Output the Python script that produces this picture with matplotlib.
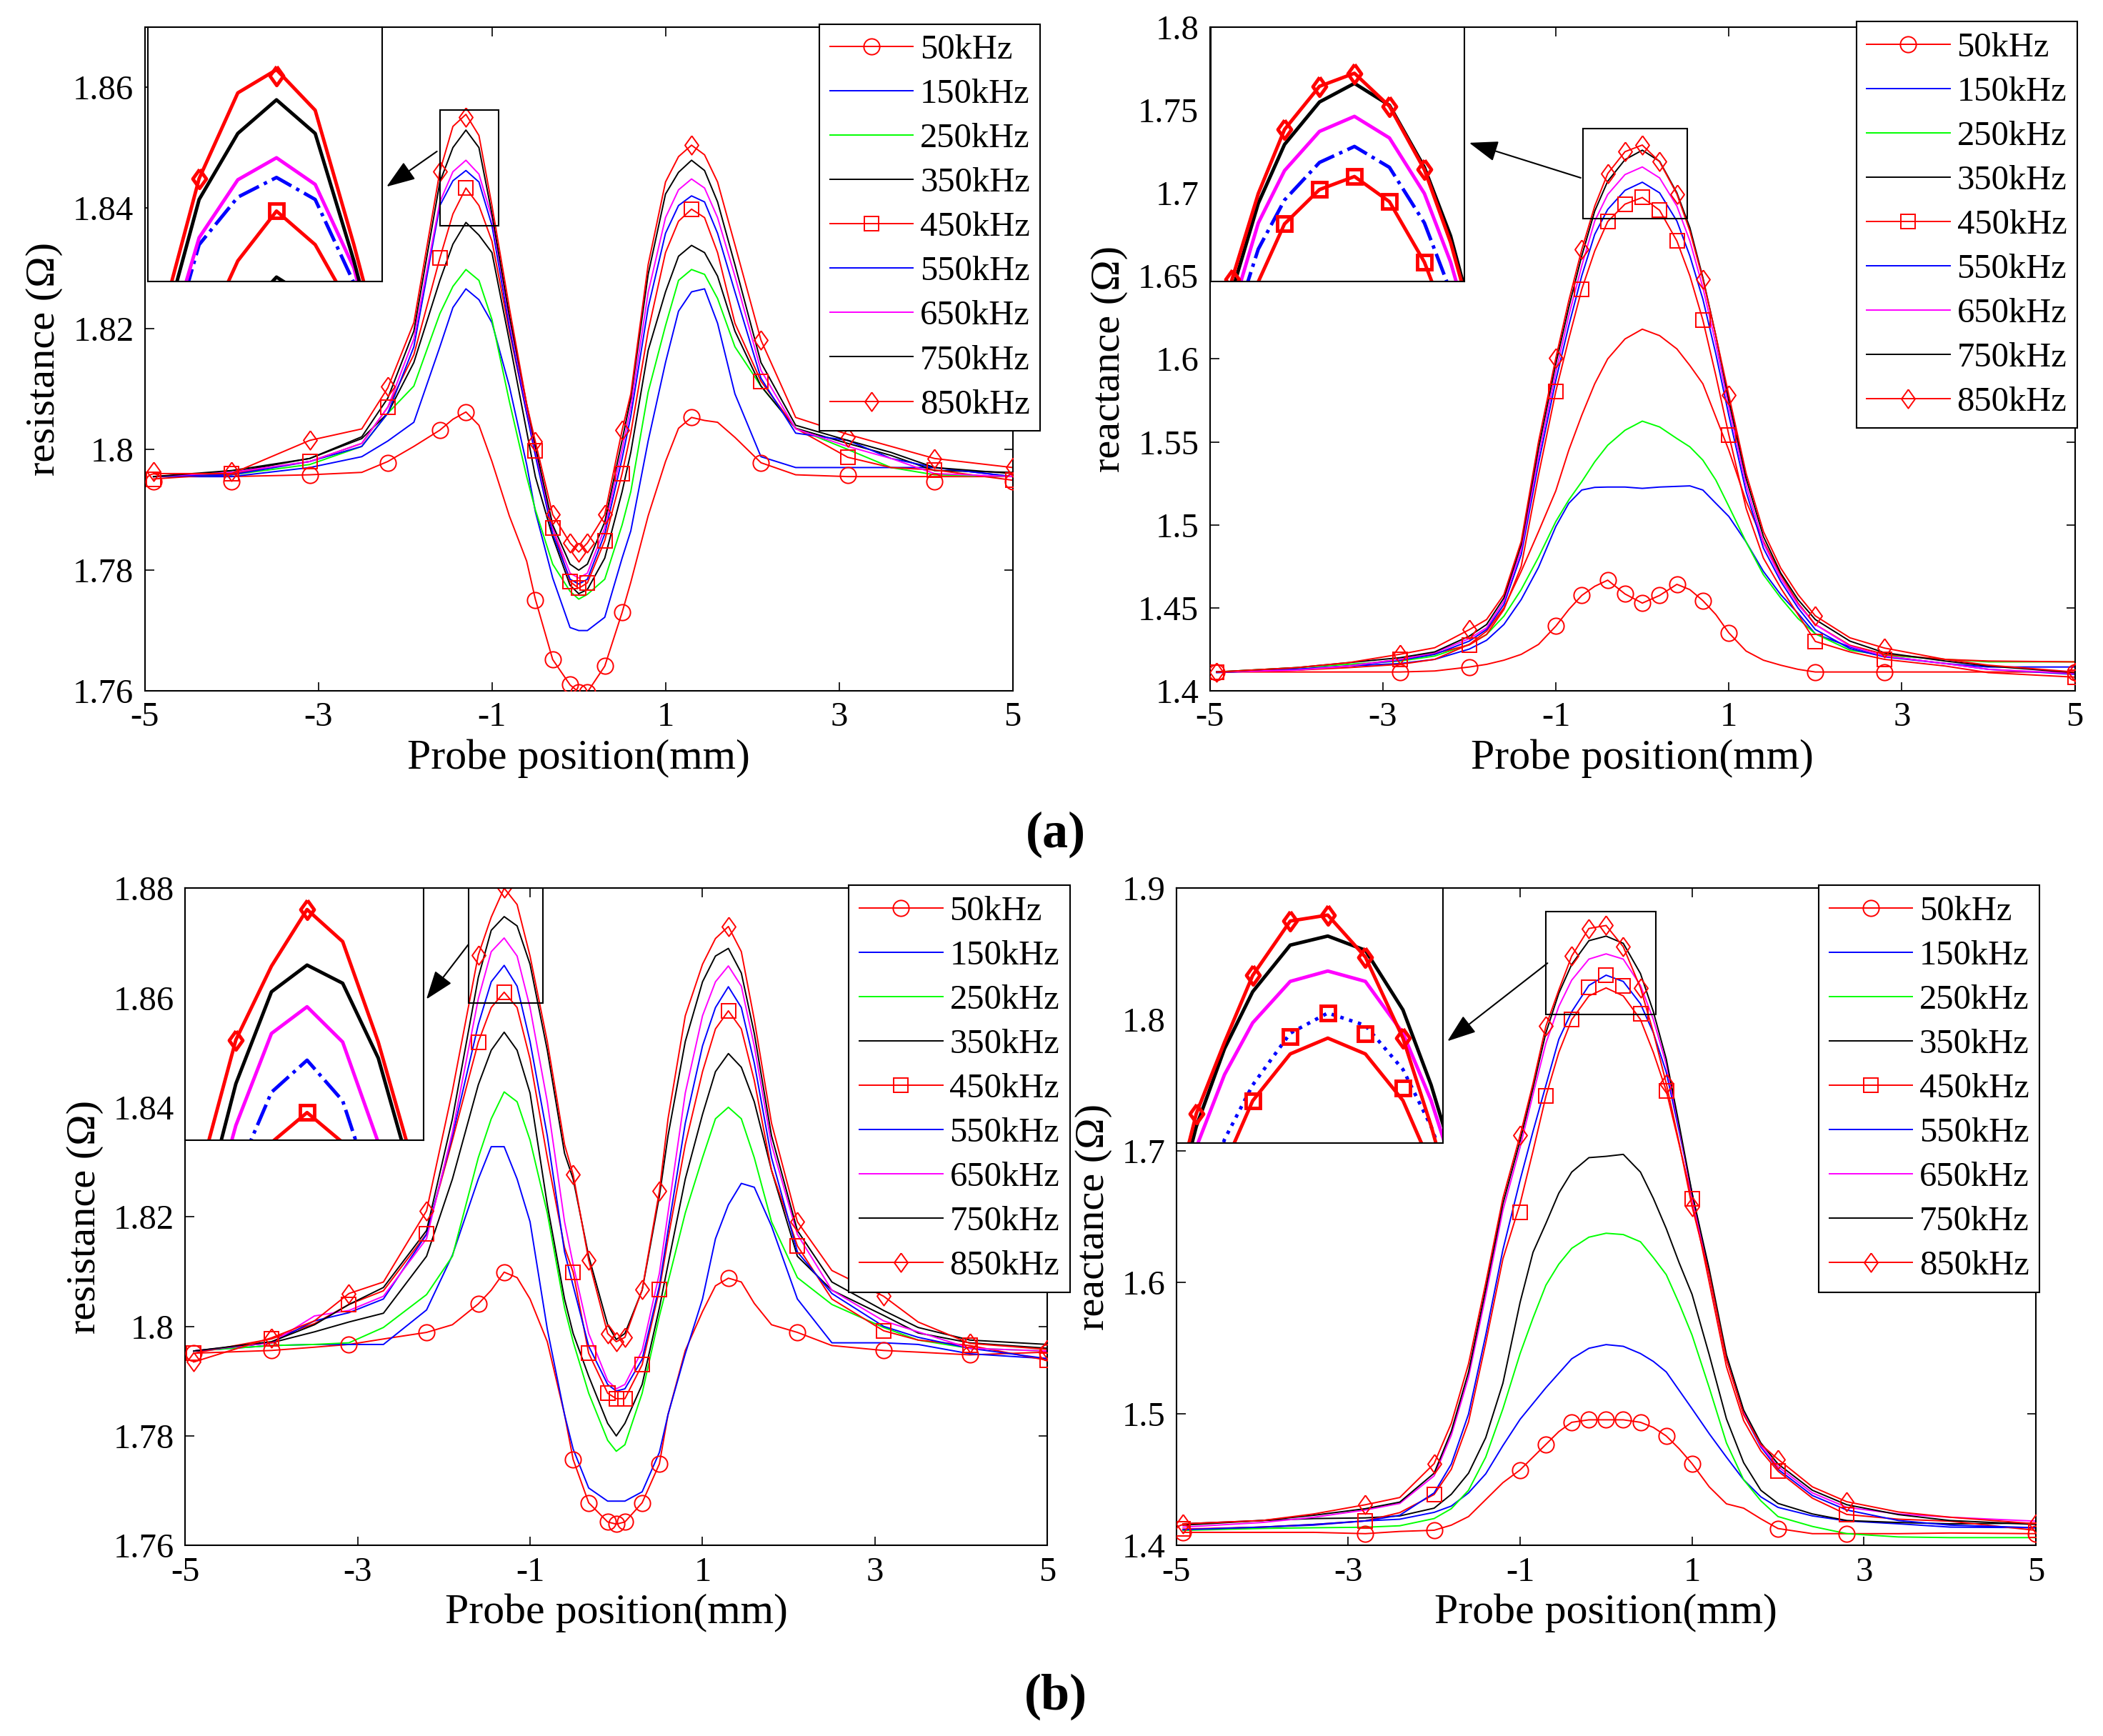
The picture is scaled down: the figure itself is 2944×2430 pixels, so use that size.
import numpy as np
import matplotlib
matplotlib.use('Agg')
import matplotlib.pyplot as plt
from matplotlib.lines import Line2D
from matplotlib.patches import Rectangle, FancyArrowPatch
from matplotlib.ticker import FuncFormatter

plt.rcParams['font.family'] = ['Liberation Serif', 'DejaVu Serif']
plt.rcParams['axes.unicode_minus'] = False

# ---------------- data ----------------
FREQS = ['50kHz', '150kHz', '250kHz', '350kHz', '450kHz', '550kHz', '650kHz', '750kHz', '850kHz']

# (a) resistance
RA_X = [-4.9, -4.0, -3.1, -2.5, -2.2, -1.9, -1.6, -1.45, -1.3, -1.15, -1.0, -0.8, -0.6, -0.5, -0.3, -0.1, 0, 0.1,
        0.3, 0.5, 0.6, 0.8, 1.0, 1.15, 1.3, 1.45, 1.6, 1.8, 2.1, 2.5, 3.1, 3.6, 4.1, 5.0]
RA_50 = [1.7955, 1.7955, 1.7958, 1.7962, 1.798, 1.8005, 1.8032, 1.805, 1.8062, 1.804, 1.798, 1.789, 1.7815, 1.7752,
         1.7652, 1.761, 1.7598, 1.7598, 1.7641, 1.773, 1.778, 1.789, 1.798, 1.8035, 1.8053, 1.8048, 1.8045, 1.802,
         1.7978, 1.7958, 1.7955, 1.7955, 1.7955, 1.7955]
RA_150 = [1.7955, 1.7955, 1.797, 1.7988, 1.8014, 1.8045, 1.817, 1.8235, 1.8266, 1.8248, 1.821, 1.8105, 1.7975, 1.7897,
          1.7787, 1.7705, 1.770, 1.770, 1.7722, 1.782, 1.7865, 1.8014, 1.8144, 1.8229, 1.8261, 1.8266, 1.8209, 1.8092,
          1.7988, 1.797, 1.797, 1.797, 1.797, 1.7955]
RA_250 = [1.7955, 1.7958, 1.7975, 1.8005, 1.806, 1.8105, 1.8225, 1.827, 1.8298, 1.828, 1.8215, 1.808, 1.7955, 1.790,
          1.781, 1.7765, 1.7752, 1.776, 1.7785, 1.7875, 1.793, 1.8095, 1.8205, 1.828, 1.8298, 1.829, 1.825, 1.817,
          1.8105, 1.8035, 1.800, 1.797, 1.7958, 1.7955]
RA_350 = [1.7955, 1.7962, 1.7985, 1.8018, 1.806, 1.8144, 1.828, 1.834, 1.8376, 1.8355, 1.8326, 1.818, 1.803, 1.7955,
          1.7855, 1.7775, 1.7761, 1.7768, 1.782, 1.793, 1.7995, 1.8164, 1.8261, 1.832, 1.8338, 1.8326, 1.8287, 1.8196,
          1.8105, 1.8035, 1.801, 1.799, 1.7965, 1.7962]
RA_450 = [1.7951, 1.796, 1.798, 1.801, 1.807, 1.8157, 1.8317, 1.839, 1.8433, 1.8404, 1.8345, 1.8196, 1.806, 1.7998,
          1.787, 1.7781, 1.777, 1.7779, 1.7849, 1.796, 1.8027, 1.8196, 1.8326, 1.8378, 1.8398, 1.8384, 1.8326, 1.8209,
          1.8113, 1.8035, 1.7987, 1.797, 1.7966, 1.7949]
RA_550 = [1.7955, 1.7958, 1.798, 1.8005, 1.806, 1.817, 1.8404, 1.8445, 1.8462, 1.8443, 1.8371, 1.8203, 1.806, 1.799,
          1.786, 1.7785, 1.7777, 1.7785, 1.786, 1.7985, 1.8055, 1.8235, 1.8358, 1.8404, 1.842, 1.841, 1.8358, 1.8261,
          1.8118, 1.8027, 1.8015, 1.7985, 1.797, 1.7955]
RA_650 = [1.7955, 1.7962, 1.798, 1.801, 1.807, 1.8183, 1.841, 1.846, 1.8479, 1.8456, 1.8384, 1.8216, 1.807, 1.800,
          1.787, 1.7795, 1.7787, 1.7795, 1.787, 1.800, 1.807, 1.826, 1.8384, 1.843, 1.8448, 1.8433, 1.8384, 1.8287,
          1.8131, 1.8034, 1.8005, 1.7985, 1.796, 1.7955]
RA_750 = [1.7955, 1.7965, 1.7985, 1.8021, 1.8085, 1.8196, 1.8443, 1.850, 1.8529, 1.850, 1.839, 1.8222, 1.8075, 1.8005,
          1.7875, 1.781, 1.780, 1.781, 1.788, 1.8015, 1.8085, 1.829, 1.8423, 1.8459, 1.8479, 1.8462, 1.841, 1.8306,
          1.8144, 1.804, 1.8015, 1.7995, 1.797, 1.796]
RA_850 = [1.796, 1.796, 1.8015, 1.8034, 1.8102, 1.821, 1.8461, 1.8535, 1.8555, 1.852, 1.8404, 1.8235, 1.8075, 1.8013,
          1.7892, 1.7845, 1.783, 1.7845, 1.7892, 1.8032, 1.8092, 1.8306, 1.8443, 1.8485, 1.8504, 1.8488, 1.8443, 1.8339,
          1.8181, 1.8053, 1.8025, 1.8005, 1.7985, 1.797]
RA_MX = [-4.9, -4.0, -3.1, -2.2, -1.6, -1.3, -0.5, -0.3, -0.1, 0, 0.1, 0.3, 0.5, 1.3, 2.1, 3.1, 4.1, 5.0]
RA_M50 = [1.7947, 1.7947, 1.7958, 1.7978, 1.8032, 1.8062, 1.7751, 1.7652, 1.7611, 1.7598, 1.7598, 1.7641, 1.773,
          1.8053, 1.7978, 1.7958, 1.7947, 1.7947]
RA_M450 = [1.7951, 1.796, 1.798, 1.807, 1.8317, 1.8433, 1.7998, 1.787, 1.7781, 1.777, 1.7779, 1.7849, 1.796, 1.8398,
           1.8113, 1.7987, 1.7966, 1.7949]
RA_M850 = [1.7963, 1.7963, 1.8015, 1.8104, 1.8461, 1.855, 1.8013, 1.7892, 1.7845, 1.783, 1.7845, 1.7892, 1.8032,
           1.8504, 1.8181, 1.802, 1.7985, 1.797]

# (a) reactance
XA_X = [-4.92, -4.0, -3.4, -2.8, -2.4, -2.0, -1.8, -1.6, -1.4, -1.2, -1.0, -0.85, -0.7, -0.55, -0.4, -0.2, 0, 0.2,
        0.4, 0.55, 0.7, 0.85, 1.0, 1.2, 1.4, 1.6, 1.8, 2.0, 2.4, 2.8, 3.5, 4.0, 5.0]
XA_50 = [1.4114, 1.4114, 1.4114, 1.4114, 1.412, 1.4144, 1.416, 1.4185, 1.422, 1.428, 1.439, 1.449, 1.4575, 1.463,
         1.4667, 1.4584, 1.4529, 1.4575, 1.4642, 1.461, 1.4544, 1.446, 1.435, 1.424, 1.4185, 1.4155, 1.413, 1.4114,
         1.4114, 1.4114, 1.4114, 1.4114, 1.4114]
XA_150 = [1.411, 1.413, 1.415, 1.4165, 1.419, 1.4252, 1.4305, 1.440, 1.455, 1.4744, 1.499, 1.513, 1.521, 1.5226,
          1.5228, 1.5228, 1.522, 1.5228, 1.5232, 1.5235, 1.521, 1.513, 1.5051, 1.4897, 1.472, 1.458, 1.4467, 1.4344,
          1.4265, 1.421, 1.4165, 1.4144, 1.4144]
XA_250 = [1.4114, 1.414, 1.416, 1.418, 1.421, 1.428, 1.434, 1.445, 1.461, 1.4805, 1.502, 1.515, 1.526, 1.538, 1.548,
          1.557, 1.5625, 1.559, 1.552, 1.547, 1.539, 1.527, 1.5112, 1.4897, 1.470, 1.456, 1.4436, 1.4344, 1.4245,
          1.4215, 1.419, 1.4175, 1.4175]
XA_350 = [1.4114, 1.4125, 1.414, 1.416, 1.419, 1.428, 1.436, 1.450, 1.472, 1.4959, 1.5205, 1.545, 1.566, 1.585, 1.600,
          1.612, 1.6179, 1.614, 1.606, 1.596, 1.585, 1.565, 1.545, 1.5143, 1.490, 1.470, 1.4529, 1.440, 1.4275, 1.4221,
          1.419, 1.418, 1.4175]
XA_450 = [1.4114, 1.4125, 1.415, 1.419, 1.4225, 1.4277, 1.434, 1.449, 1.475, 1.530, 1.5804, 1.612, 1.6419, 1.665,
          1.6827, 1.6932, 1.6972, 1.6895, 1.671, 1.650, 1.6234, 1.590, 1.5543, 1.510, 1.480, 1.462, 1.446, 1.4298,
          1.4235, 1.419, 1.415, 1.411, 1.4083]
XA_550 = [1.4114, 1.413, 1.415, 1.4185, 1.422, 1.430, 1.437, 1.452, 1.482, 1.537, 1.587, 1.620, 1.650, 1.675, 1.690,
          1.7015, 1.7064, 1.700, 1.683, 1.662, 1.636, 1.603, 1.566, 1.520, 1.486, 1.466, 1.450, 1.437, 1.4255, 1.4205,
          1.4165, 1.413, 1.410]
XA_650 = [1.4114, 1.4125, 1.415, 1.419, 1.423, 1.4315, 1.438, 1.454, 1.485, 1.541, 1.592, 1.626, 1.656, 1.683, 1.699,
          1.711, 1.7156, 1.709, 1.692, 1.671, 1.643, 1.609, 1.571, 1.524, 1.489, 1.468, 1.452, 1.440, 1.427, 1.421,
          1.4165, 1.413, 1.4105]
XA_750 = [1.4114, 1.414, 1.417, 1.420, 1.4235, 1.433, 1.440, 1.456, 1.488, 1.546, 1.597, 1.631, 1.662, 1.689, 1.707,
          1.720, 1.7257, 1.719, 1.700, 1.679, 1.649, 1.614, 1.575, 1.528, 1.493, 1.471, 1.455, 1.443, 1.430, 1.423,
          1.418, 1.415, 1.411]
XA_850 = [1.4114, 1.414, 1.417, 1.4221, 1.426, 1.4369, 1.443, 1.458, 1.490, 1.550, 1.6004, 1.635, 1.6658, 1.692,
          1.7116, 1.7248, 1.7288, 1.7187, 1.6993, 1.677, 1.648, 1.614, 1.5782, 1.531, 1.496, 1.474, 1.458, 1.4452,
          1.432, 1.4258, 1.419, 1.4155, 1.4114]
XA_MX = [-4.92, -2.8, -2.0, -1.0, -0.7, -0.4, -0.2, 0, 0.2, 0.4, 0.7, 1.0, 2.0, 2.8, 5.0]
XA_M50 = [1.4114, 1.4114, 1.4144, 1.439, 1.4575, 1.4667, 1.4584, 1.4529, 1.4575, 1.4642, 1.4544, 1.435, 1.4114,
          1.4114, 1.4114]
XA_M450 = [1.4114, 1.419, 1.4277, 1.5804, 1.6419, 1.6827, 1.6932, 1.6972, 1.6895, 1.671, 1.6234, 1.5543, 1.4298,
           1.419, 1.4083]
XA_M850 = [1.4114, 1.4221, 1.4369, 1.6004, 1.6658, 1.7116, 1.7248, 1.7288, 1.7187, 1.6993, 1.648, 1.5782, 1.4452,
           1.4258, 1.4114]

# (b) resistance
RB_X = [-4.9, -4.0, -3.5, -3.1, -2.7, -2.2, -1.9, -1.6, -1.45, -1.3, -1.15, -1.0, -0.8, -0.6, -0.5, -0.32, -0.1, 0,
        0.1, 0.3, 0.5, 0.6, 0.8, 1.0, 1.15, 1.3, 1.45, 1.6, 1.8, 2.1, 2.5, 3.1, 3.5, 4.1, 5.0]
RB_50 = [1.7951, 1.7956, 1.7962, 1.7967, 1.7977, 1.7989, 1.8003, 1.8041, 1.8066, 1.8099, 1.8089, 1.805, 1.7972,
         1.7839, 1.7757, 1.7678, 1.7643, 1.7639, 1.7643, 1.7678, 1.7749, 1.7839, 1.7956, 1.8027, 1.8074, 1.8088,
         1.8081, 1.8042, 1.8003, 1.7989, 1.7965, 1.7956, 1.7953, 1.7948, 1.7953]
RB_150 = [1.7955, 1.7965, 1.7967, 1.7967, 1.7967, 1.803, 1.813, 1.8269, 1.8328, 1.8328, 1.8269, 1.8191, 1.7995,
          1.7839, 1.7776, 1.7705, 1.7681, 1.7681, 1.7681, 1.7698, 1.777, 1.7839, 1.795, 1.805, 1.816, 1.8222, 1.8261,
          1.8254, 1.8183, 1.805, 1.797, 1.797, 1.7967, 1.795, 1.7941]
RB_250 = [1.7955, 1.7965, 1.7967, 1.797, 1.7998, 1.8058, 1.8128, 1.8308, 1.8379, 1.8428, 1.841, 1.834, 1.8207, 1.8034,
          1.7972, 1.7878, 1.7792, 1.7772, 1.7784, 1.7878, 1.8019, 1.8081, 1.8207, 1.8308, 1.8379, 1.840, 1.8379,
          1.8308, 1.8191, 1.8089, 1.804, 1.7998, 1.7975, 1.796, 1.7955]
RB_350 = [1.7955, 1.797, 1.799, 1.8008, 1.8024, 1.8128, 1.8269, 1.8441, 1.8504, 1.8537, 1.8504, 1.8426, 1.8222, 1.805,
          1.7987, 1.7909, 1.7823, 1.780, 1.7823, 1.7894, 1.8034, 1.8113, 1.8269, 1.8387, 1.8465, 1.8498, 1.8473,
          1.841, 1.8285, 1.8128, 1.8066, 1.802, 1.7988, 1.797, 1.796]
RB_450 = [1.7951, 1.7977, 1.8005, 1.804, 1.8065, 1.8169, 1.834, 1.8519, 1.8582, 1.861, 1.8582, 1.8488, 1.8308, 1.8144,
          1.8099, 1.7951, 1.7878, 1.7868, 1.7868, 1.793, 1.8067, 1.816, 1.8332, 1.8465, 1.8543, 1.8576, 1.8543, 1.8449,
          1.8285, 1.8147, 1.805, 1.7992, 1.7975, 1.7965, 1.7938]
RB_550 = [1.7955, 1.797, 1.801, 1.8025, 1.805, 1.8168, 1.8348, 1.8551, 1.8629, 1.8659, 1.8621, 1.852, 1.8348, 1.8136,
          1.8074, 1.7964, 1.7894, 1.7882, 1.7886, 1.794, 1.8074, 1.8175, 1.8371, 1.8512, 1.8582, 1.862, 1.8582, 1.8481,
          1.8308, 1.8136, 1.806, 1.800, 1.798, 1.796, 1.7941]
RB_650 = [1.7955, 1.797, 1.8019, 1.8029, 1.8055, 1.816, 1.8355, 1.8598, 1.8684, 1.8709, 1.8676, 1.8582, 1.841, 1.8191,
          1.8113, 1.7987, 1.7901, 1.7886, 1.7894, 1.7956, 1.8097, 1.8207, 1.8426, 1.8567, 1.8629, 1.8658, 1.8621,
          1.8512, 1.8332, 1.8168, 1.8066, 1.801, 1.799, 1.796, 1.7955]
RB_750 = [1.7955, 1.7972, 1.8003, 1.804, 1.8071, 1.8175, 1.8379, 1.8637, 1.8723, 1.8748, 1.8731, 1.8661, 1.8504,
          1.8316, 1.8269, 1.8128, 1.8003, 1.7976, 1.7987, 1.8066, 1.8238, 1.8348, 1.852, 1.8629, 1.8676, 1.869, 1.8645,
          1.8535, 1.8348, 1.8175, 1.8081, 1.8029, 1.7998, 1.7975, 1.7967]
RB_850 = [1.7935, 1.7979, 1.801, 1.806, 1.8081, 1.8211, 1.843, 1.8678, 1.8747, 1.880, 1.877, 1.8676, 1.852, 1.8332,
          1.8277, 1.8121, 1.7987, 1.7972, 1.798, 1.8067, 1.8247, 1.8379, 1.8567, 1.8661, 1.8708, 1.873, 1.8684, 1.856,
          1.8371, 1.8191, 1.8102, 1.8055, 1.8008, 1.7969, 1.7958]
RB_MX = [-4.9, -4.0, -3.1, -2.2, -1.6, -1.3, -0.5, -0.32, -0.1, 0, 0.1, 0.3, 0.5, 1.3, 2.1, 3.1, 4.1, 5.0]
RB_M50 = [1.7951, 1.7956, 1.7967, 1.7989, 1.8041, 1.8099, 1.7757, 1.7678, 1.7643, 1.7639, 1.7643, 1.7678, 1.7749,
          1.8088, 1.7989, 1.7956, 1.7948, 1.7953]
RB_M450 = [1.7951, 1.7977, 1.804, 1.8169, 1.8519, 1.861, 1.8099, 1.7951, 1.7878, 1.7868, 1.7868, 1.793, 1.8067,
           1.8576, 1.8147, 1.7992, 1.7965, 1.7938]
RB_M850 = [1.7935, 1.7979, 1.806, 1.8211, 1.8678, 1.880, 1.8277, 1.8121, 1.7987, 1.7972, 1.798, 1.8067, 1.8247,
           1.873, 1.8191, 1.8055, 1.7969, 1.7958]

# (b) reactance
XB_X = [-4.92, -4.0, -3.4, -2.8, -2.4, -2.0, -1.8, -1.6, -1.4, -1.2, -1.0, -0.85, -0.7, -0.55, -0.4, -0.2, 0, 0.2,
        0.4, 0.55, 0.7, 0.85, 1.0, 1.2, 1.4, 1.6, 1.8, 2.0, 2.4, 2.8, 3.4, 4.0, 5.0]
XB_50 = [1.410, 1.410, 1.410, 1.409, 1.4107, 1.4116, 1.4155, 1.422, 1.4349, 1.4478, 1.4575, 1.4672, 1.4769, 1.4866,
         1.4937, 1.4956, 1.4956, 1.4956, 1.4937, 1.4898, 1.4833, 1.4736, 1.4623, 1.4446, 1.4317, 1.4284, 1.4203,
         1.4129, 1.409, 1.409, 1.409, 1.4095, 1.409]
XB_150 = [1.412, 1.414, 1.4155, 1.4187, 1.420, 1.4252, 1.430, 1.440, 1.4545, 1.476, 1.496, 1.508, 1.520, 1.531, 1.542,
          1.550, 1.5528, 1.5515, 1.546, 1.540, 1.532, 1.518, 1.504, 1.485, 1.4672, 1.450, 1.437, 1.429, 1.4225, 1.4187,
          1.4165, 1.414, 1.4135]
XB_250 = [1.4115, 1.413, 1.4135, 1.4139, 1.415, 1.4205, 1.428, 1.442, 1.4672, 1.504, 1.546, 1.573, 1.598, 1.614,
          1.626, 1.6345, 1.6375, 1.6365, 1.631, 1.619, 1.606, 1.584, 1.560, 1.520, 1.478, 1.450, 1.434, 1.422, 1.4145,
          1.409, 1.4065, 1.406, 1.406]
XB_350 = [1.4165, 1.419, 1.4205, 1.421, 1.4225, 1.4284, 1.439, 1.455, 1.482, 1.5235, 1.585, 1.623, 1.645, 1.668, 1.684,
          1.695, 1.696, 1.6975, 1.684, 1.664, 1.641, 1.615, 1.591, 1.545, 1.4963, 1.463, 1.442, 1.432, 1.424, 1.419,
          1.4175, 1.4165, 1.417]
XB_450 = [1.4125, 1.414, 1.416, 1.4187, 1.425, 1.4388, 1.458, 1.494, 1.554, 1.618, 1.660, 1.700, 1.7417, 1.775, 1.7999,
          1.818, 1.8241, 1.818, 1.800, 1.775, 1.7459, 1.705, 1.6636, 1.600, 1.536, 1.495, 1.472, 1.4565, 1.436, 1.4236,
          1.420, 1.4185, 1.4115]
XB_550 = [1.412, 1.414, 1.416, 1.4187, 1.423, 1.440, 1.462, 1.500, 1.560, 1.625, 1.678, 1.715, 1.750, 1.785, 1.806,
          1.826, 1.8338, 1.829, 1.812, 1.790, 1.760, 1.715, 1.668, 1.606, 1.542, 1.500, 1.475, 1.458, 1.438, 1.427,
          1.419, 1.4155, 1.4135]
XB_650 = [1.414, 1.4175, 1.4215, 1.427, 1.432, 1.453, 1.484, 1.528, 1.590, 1.655, 1.703, 1.743, 1.782, 1.810, 1.830,
          1.846, 1.850, 1.846, 1.826, 1.800, 1.766, 1.718, 1.665, 1.607, 1.543, 1.501, 1.476, 1.460, 1.440, 1.429,
          1.424, 1.4215, 1.4185]
XB_750 = [1.4155, 1.419, 1.423, 1.428, 1.433, 1.455, 1.487, 1.532, 1.595, 1.660, 1.708, 1.748, 1.790, 1.820, 1.842,
          1.860, 1.8635, 1.858, 1.835, 1.806, 1.770, 1.720, 1.668, 1.610, 1.545, 1.503, 1.478, 1.462, 1.442, 1.431,
          1.4235, 1.419, 1.416]
XB_850 = [1.4165, 1.419, 1.424, 1.431, 1.4365, 1.4623, 1.493, 1.5382, 1.5996, 1.6642, 1.712, 1.7514, 1.795, 1.8225,
          1.8483, 1.8693, 1.8716, 1.8554, 1.8241, 1.7902, 1.7514, 1.7062, 1.6578, 1.6061, 1.5415, 1.4995, 1.4769,
          1.4656, 1.4446, 1.4333, 1.4255, 1.4215, 1.4165]
XB_MX = [-4.92, -2.8, -2.0, -1.0, -0.7, -0.4, -0.2, 0, 0.2, 0.4, 0.7, 1.0, 2.0, 2.8, 5.0]
XB_M50 = [1.410, 1.409, 1.4116, 1.4575, 1.4769, 1.4937, 1.4956, 1.4956, 1.4956, 1.4937, 1.4833, 1.4623, 1.4129,
          1.409, 1.409]
XB_M450 = [1.4125, 1.4187, 1.4388, 1.6536, 1.7417, 1.7999, 1.8248, 1.8338, 1.8257, 1.8047, 1.7459, 1.6636, 1.4565,
           1.4236, 1.4115]
XB_M850 = [1.4165, 1.431, 1.4623, 1.712, 1.795, 1.8483, 1.8693, 1.8716, 1.8554, 1.8241, 1.7514, 1.6578, 1.4656,
           1.4333, 1.4165]

X_TICKS = [-5, -3, -1, 1, 3, 5]
RA_TICKS = [1.76, 1.78, 1.80, 1.82, 1.84, 1.86]
XA_TICKS = [1.4, 1.45, 1.5, 1.55, 1.6, 1.65, 1.7, 1.75, 1.8]
RB_TICKS = [1.76, 1.78, 1.80, 1.82, 1.84, 1.86, 1.88]
XB_TICKS = [1.4, 1.5, 1.6, 1.7, 1.8, 1.9]

# ---------------- style ----------------
RED, BLUE, GREEN, BLACK, MAG = '#FF0000', '#0000FF', '#00FF00', '#000000', '#FF00FF'
COLORS = [RED, BLUE, GREEN, BLACK, RED, BLUE, MAG, BLACK, RED]
DIAMOND = [(0, 1), (0.72, 0), (0, -1), (-0.72, 0), (0, 1)]
MARKERS = {0: ('o', 16), 4: ('s', 14), 8: (DIAMOND, 19)}

W, H = 2944, 2430
DW, DH = 1568.0, 1294.0


def fx(x):
    return x / DW


def fy(y):
    return 1 - y / DH


def box(l, r, t, b):
    return [fx(l), fy(b), fx(r) - fx(l), fy(t) - fy(b)]


panels = [
    dict(X=RA_X, Y=[RA_50, RA_150, RA_250, RA_350, RA_450, RA_550, RA_650, RA_750, RA_850],
         MX=RA_MX, M={0: RA_M50, 4: RA_M450, 8: RA_M850},
         pos=box(108, 755, 20, 515), ylim=(1.76, 1.87), yticks=RA_TICKS, ylabel='resistance (Ω)',
         ipos=box(110, 285, 20, 210), ixlim=(-1.80, -0.89), iylim=(1.8372, 1.8592),
         rect=(-1.60, 1.8371, 0.68, 0.0191), arrow=((327, 112), (287, 140)), leg=(611, 18), ls550='-.',
         override={}),
    dict(X=XA_X, Y=[XA_50, XA_150, XA_250, XA_350, XA_450, XA_550, XA_650, XA_750, XA_850],
         MX=XA_MX, M={0: XA_M50, 4: XA_M450, 8: XA_M850},
         pos=box(902, 1547, 20, 515), ylim=(1.4, 1.8), yticks=XA_TICKS, ylabel='reactance (Ω)',
         ipos=box(903, 1092, 20, 210), ixlim=(-0.82, 0.63), iylim=(1.665, 1.743),
         rect=(-0.69, 1.6844, 1.21, 0.0542), arrow=((1180, 133), (1094, 106)), leg=(1384, 16), ls550='-.',
         override={3: RED}),
    dict(X=RB_X, Y=[RB_50, RB_150, RB_250, RB_350, RB_450, RB_550, RB_650, RB_750, RB_850],
         MX=RB_MX, M={0: RB_M50, 4: RB_M450, 8: RB_M850},
         pos=box(138, 781, 662, 1152), ylim=(1.76, 1.88), yticks=RB_TICKS, ylabel='resistance (Ω)',
         ipos=box(138, 316, 662, 850), ixlim=(-1.814, -0.808), iylim=(1.8584, 1.882),
         rect=(-1.71, 1.859, 0.86, 0.021), arrow=((350, 703), (317, 746)), leg=(633, 660), ls550='-.',
         override={}),
    dict(X=XB_X, Y=[XB_50, XB_150, XB_250, XB_350, XB_450, XB_550, XB_650, XB_750, XB_850],
         MX=XB_MX, M={0: XB_M50, 4: XB_M450, 8: XB_M850},
         pos=box(877, 1518, 662, 1152), ylim=(1.4, 1.9), yticks=XB_TICKS, ylabel='reactance (Ω)',
         ipos=box(877, 1076, 662, 852), ixlim=(-0.807, 0.614), iylim=(1.7836, 1.882),
         rect=(-0.70, 1.804, 1.28, 0.078), arrow=((1155, 717), (1078, 777)), leg=(1356, 660), ls550=':',
         override={}),
]

fig = plt.figure(figsize=(W / 100, H / 100), dpi=100)
fmt = FuncFormatter(lambda v, p: '%g' % round(v, 4))

for P in panels:
    ax = fig.add_axes(P['pos'])
    for i, yv in enumerate(P['Y']):
        c = P['override'].get(i, COLORS[i])
        ax.plot(P['X'], yv, color=c, lw=1.4, zorder=2)
    for i, mv in P['M'].items():
        m, ms = MARKERS[i]
        ax.plot(P['MX'], mv, ls='none', marker=m, ms=ms, mfc='none', mec=RED, mew=1.4, zorder=3)
    ax.set_xlim(-5, 5)
    ax.set_ylim(*P['ylim'])
    ax.set_xticks(X_TICKS)
    ax.set_yticks(P['yticks'])
    ax.yaxis.set_major_formatter(fmt)
    ax.tick_params(direction='in', top=True, right=True, length=9, width=1.2, labelsize=35, pad=11)
    for s in ax.spines.values():
        s.set_linewidth(1.5)
    ax.set_xlabel('Probe position(mm)', fontsize=43, labelpad=6)
    ax.set_ylabel(P['ylabel'], fontsize=42, labelpad=10)
    rx, ry, rw, rh = P['rect']
    ax.add_patch(Rectangle((rx, ry), rw, rh, fill=False, ec='k', lw=1.5, zorder=4))

    handles = []
    for i, lab in enumerate(FREQS):
        if i in MARKERS:
            m, ms = MARKERS[i]
            h = Line2D([], [], color=COLORS[i], lw=1.4, marker=m, ms=ms, mfc='none', mec=COLORS[i], mew=1.4)
        else:
            h = Line2D([], [], color=COLORS[i], lw=1.4)
        handles.append(h)
    lx, ly = P['leg']
    leg = ax.legend(handles, FREQS, loc='upper left', bbox_to_anchor=(fx(lx), fy(ly)),
                    bbox_transform=fig.transFigure, borderaxespad=0, fontsize=35, handlelength=2.4,
                    handletextpad=0.2, labelspacing=0.37, borderpad=0.3, fancybox=False, framealpha=1,
                    edgecolor='k')
    leg.get_frame().set_linewidth(1.5)

    # inset
    ia = fig.add_axes(P['ipos'])
    for i in [3, 5, 6, 7, 4, 8]:
        c = P['override'].get(i, COLORS[i])
        ls = P['ls550'] if i == 5 else '-'
        ia.plot(P['X'], P['Y'][i], color=c, lw=3.5, ls=ls)
    for i, mv in P['M'].items():
        m, ms = MARKERS[i]
        ia.plot(P['MX'], mv, ls='none', marker=m, ms=ms, mfc='none', mec=RED, mew=3.5)
    ia.set_xlim(*P['ixlim'])
    ia.set_ylim(*P['iylim'])
    ia.set_xticks([])
    ia.set_yticks([])
    for s in ia.spines.values():
        s.set_linewidth(1.5)

    (tx, ty), (hx, hy) = P['arrow']
    arr = FancyArrowPatch((fx(tx), fy(ty)), (fx(hx), fy(hy)), transform=fig.transFigure,
                          arrowstyle='-|>,head_length=0.5,head_width=0.18', mutation_scale=50,
                          color='k', lw=1.5)
    fig.add_artist(arr)

fig.text(fx(787), fy(622), '(a)', ha='center', va='center', fontsize=52, fontweight='bold')
fig.text(fx(787), fy(1265), '(b)', ha='center', va='center', fontsize=52, fontweight='bold')

fig.savefig('out.png', dpi=100, facecolor='white')
